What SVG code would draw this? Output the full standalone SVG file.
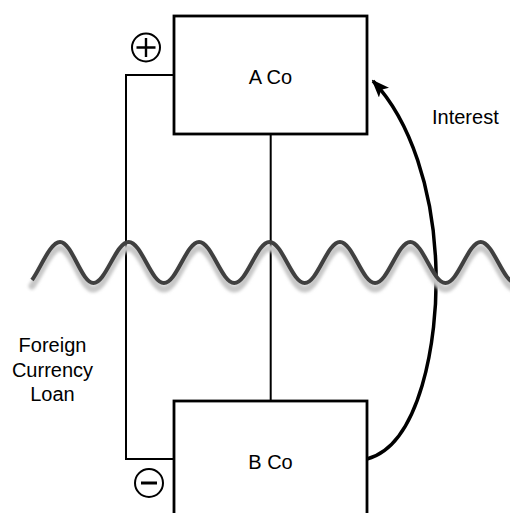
<svg xmlns="http://www.w3.org/2000/svg" width="510" height="513" viewBox="0 0 510 513">
<style>
.box{fill:#fff;stroke:#000;stroke-width:2.8}
.line{fill:none;stroke:#000;stroke-width:2}
.lbl{font-family:"Liberation Sans",Arial,sans-serif;font-size:20px;fill:#000}
.sign{fill:#fff;stroke:#000;stroke-width:2}
</style>
<defs>
<marker id="ah" viewBox="0 0 18 14" refX="16" refY="7" markerWidth="18" markerHeight="14" markerUnits="userSpaceOnUse" orient="auto">
<path d="M0,0 L18,7 L0,14 L4,7 z" fill="#000"/>
</marker>
<filter id="blur" x="-5%" y="-50%" width="110%" height="200%"><feGaussianBlur stdDeviation="1.5"/></filter>
</defs>
<g id="connectors">
<path class="line" d="M174,75 H126 V459 H174"/>
<path class="line" d="M270.7,134 V401"/>
<path d="M367,459 C420,445 438,340 436,270 C434,190 410,120 373,81" fill="none" stroke="#000" stroke-width="3.5" marker-end="url(#ah)"/>
</g>
<g id="wave">
<path d="M32,280 C40,269.5 50,242 60,242 c12.2,0 21.3,41 33.5,41 s22.4,-41 35.2,-41 s22.4,41 35.2,41 s22.4,-41 35.2,-41 s22.4,41 35.2,41 s22.4,-41 35.2,-41 s22.4,41 35.2,41 s22.4,-41 35.2,-41 s22.4,41 35.2,41 s22.4,-41 35.2,-41 s22.4,41 35.2,41 s22.4,-41 35.2,-41 s22.4,41 35.2,41 s22.4,-41 35.2,-41" fill="none" stroke="#c8c8c8" stroke-width="7" stroke-linecap="round" transform="translate(0,6)" filter="url(#blur)"/>
<path d="M32,280 C40,269.5 50,242 60,242 c12.2,0 21.3,41 33.5,41 s22.4,-41 35.2,-41 s22.4,41 35.2,41 s22.4,-41 35.2,-41 s22.4,41 35.2,41 s22.4,-41 35.2,-41 s22.4,41 35.2,41 s22.4,-41 35.2,-41 s22.4,41 35.2,41 s22.4,-41 35.2,-41 s22.4,41 35.2,41 s22.4,-41 35.2,-41 s22.4,41 35.2,41 s22.4,-41 35.2,-41" fill="none" stroke="#404040" stroke-width="4"/>
</g>
<g id="acoNode">
<rect class="box" x="174" y="16" width="193" height="118"/>
<text class="lbl" x="270.5" y="84" text-anchor="middle">A Co</text>
</g>
<g id="bcoNode">
<rect class="box" x="174" y="401" width="193" height="130"/>
<text class="lbl" x="270.5" y="469" text-anchor="middle">B Co</text>
</g>
<g id="plusSign">
<circle class="sign" cx="146" cy="47.5" r="14"/>
<path d="M146,38 V57 M136.5,47.5 H155.5" stroke="#000" stroke-width="2.4"/>
</g>
<g id="minusSign">
<circle class="sign" cx="149" cy="483" r="14"/>
<path d="M141,483 H157" stroke="#000" stroke-width="3"/>
</g>
<g id="interestLabel">
<text class="lbl" x="432" y="124">Interest</text>
</g>
<g id="loanLabel">
<text class="lbl" text-anchor="middle"><tspan x="52.5" y="352">Foreign</tspan><tspan x="52.5" y="377">Currency</tspan><tspan x="52.5" y="401">Loan</tspan></text>
</g>
</svg>
